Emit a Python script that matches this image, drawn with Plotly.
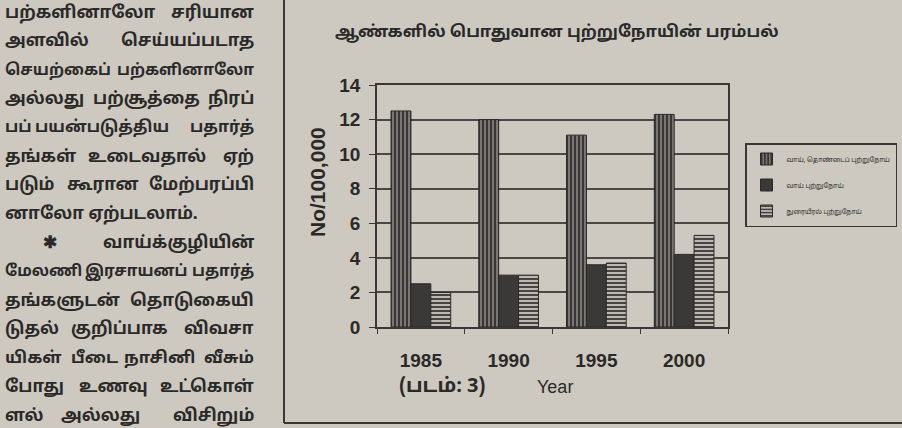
import plotly.graph_objects as go

# ---------------- data ----------------
years = ["1985", "1990", "1995", "2000"]
series_names = ["வாய், தொண்டைப் புற்றுநோய்", "வாய் புற்றுநோய்", "நுரையீரல் புற்றுநோய்"]
s1_values = [12.5, 12.0, 11.1, 12.3]
s2_values = [2.5, 3.0, 3.6, 4.2]
s3_values = [2.0, 3.0, 3.7, 5.3]
y_ticks = [0, 2, 4, 6, 8, 10, 12, 14]

chart_title = "ஆண்களில் பொதுவான புற்றுநோயின் பரம்பல்"
y_title = "No/100,000"
x_title = "Year"
fig_caption = "(படம்: 3)"

column_lines = [
    "பற்களினாலோ சரியான",
    "அளவில் செய்யப்படாத",
    "செயற்கைப் பற்களினாலோ",
    "அல்லது பற்சூத்தை நிரப்",
    "பப் பயன்படுத்திய பதார்த்",
    "தங்கள் உடைவதால் ஏற்",
    "படும் கூரான மேற்பரப்பி",
    "னாலோ ஏற்படலாம்.",
    "* வாய்க்குழியின்",
    "மேலணி இரசாயனப் பதார்த்",
    "தங்களுடன் தொடுகையி",
    "டுதல் குறிப்பாக விவசா",
    "யிகள் பீடை நாசினி வீசும்",
    "போது உணவு உட்கொள்",
    "ளல் அல்லது விசிறும்",
]

# ---------------- layout of the text column (pixel positions) ----------------
left_aligned_lines = {7}
middle_word_centres = {3: [146], 4: [102], 5: [147], 6: [103], 9: [136],
                       11: [119], 12: [94, 159], 13: [113], 14: [100]}
line_font_sizes = {2: 15.5, 4: 16, 9: 15.5, 12: 16.5}

# ---------------- style ----------------
W, H = 902, 428
BG = "#cdc9c1"
INK = "#2b2928"
LINE = "#3a3837"
TAMIL = "Noto Sans Tamil, Lohit Tamil, Latha, Noto Sans, sans-serif"
ARIAL = "Liberation Sans, Arial, sans-serif"
COL_FS = 17


def px(x):
    return x / W


def py(y):
    return 1 - y / H


def ann(x, y, text, font, xanchor="center", yanchor="middle", **kw):
    d = dict(x=px(x), y=py(y), xref="paper", yref="paper", text=text, showarrow=False,
             xanchor=xanchor, yanchor=yanchor, font=font)
    d.update(kw)
    return d


fig = go.Figure()
fig.add_trace(go.Bar(
    x=years, y=s1_values, name=series_names[0], legendgroup="a",
    marker=dict(color="#8a8782", line=dict(color=INK, width=1),
                pattern=dict(shape="|", fgcolor="#383635", bgcolor="#8a8782",
                             size=4, solidity=0.6, fillmode="replace")),
))
fig.add_trace(go.Bar(
    x=years, y=s2_values, name=series_names[1], legendgroup="b",
    marker=dict(color="#3b3938", line=dict(color=INK, width=1)),
))
fig.add_trace(go.Bar(
    x=years, y=s3_values, name=series_names[2], legendgroup="c",
    marker=dict(color="#bebab3", line=dict(color=INK, width=1),
                pattern=dict(shape="-", fgcolor="#383635", bgcolor="#bebab3",
                             size=4, solidity=0.45, fillmode="replace")),
))

annotations = [
    ann(557, 33, "<b>" + chart_title + "</b>", dict(family=TAMIL, size=16.5, color=INK)),
    ann(317, 182, "<b>" + y_title + "</b>", dict(family=ARIAL, size=21, color=INK), textangle=-90),
    ann(397, 387, "<b>" + fig_caption + "</b>", dict(family=TAMIL, size=20, color=INK), xanchor="left"),
    ann(535, 387, x_title, dict(family=ARIAL, size=18, color=INK), xanchor="left"),
]

# left text column (justified: first word left, last word right, middle words placed)
x0, x1 = 3, 256
for i, line in enumerate(column_lines):
    yy = 13 + i * 28.8
    words = line.split(" ")
    f = dict(family=TAMIL, size=line_font_sizes.get(i, COL_FS), color=INK)
    if i in left_aligned_lines or len(words) == 1:
        annotations.append(ann(x0, yy, "<b>" + line + "</b>", f, xanchor="left"))
        continue
    if words[0] == "*":
        annotations.append(ann(50, yy, "<b>✱</b>", f))
        annotations.append(ann(x1, yy, "<b>" + words[1] + "</b>", f, xanchor="right"))
        continue
    annotations.append(ann(x0, yy, "<b>" + words[0] + "</b>", f, xanchor="left"))
    annotations.append(ann(x1, yy, "<b>" + words[-1] + "</b>", f, xanchor="right"))
    for w, cx in zip(words[1:-1], middle_word_centres.get(i, [])):
        annotations.append(ann(cx, yy, "<b>" + w + "</b>", f))

shapes = [
    dict(type="line", xref="paper", yref="paper", x0=px(284), x1=px(284), y0=py(0), y1=py(423),
         line=dict(color=LINE, width=2)),
    dict(type="line", xref="paper", yref="paper", x0=px(284), x1=px(902), y0=py(423), y1=py(423),
         line=dict(color=LINE, width=2)),
]

fig.update_layout(
    width=W, height=H, autosize=False,
    margin=dict(l=0, r=0, t=0, b=0, pad=0),
    paper_bgcolor=BG, plot_bgcolor=BG,
    barmode="group", bargap=0.32, bargroupgap=0,
    showlegend=True,
    legend=dict(x=px(745), y=py(143), xanchor="left", yanchor="top",
                bgcolor=BG, bordercolor=LINE, borderwidth=1.5,
                font=dict(family=TAMIL, size=6.5, color=INK),
                traceorder="grouped", tracegroupgap=7, itemwidth=30),
    xaxis=dict(domain=[px(377), px(728)], type="category", automargin=False,
               showline=True, linecolor=LINE, linewidth=1.5, mirror=True,
               ticks="outside", tickson="boundaries", ticklen=5, tickcolor=LINE,
               ticklabelstandoff=15,
               tickfont=dict(family=ARIAL, size=19, color=INK, weight="bold"), showgrid=False),
    yaxis=dict(domain=[py(327), py(85)], range=[0, 14], tickvals=y_ticks, automargin=False,
               showline=True, linecolor=LINE, linewidth=1.5, mirror=True,
               ticks="outside", ticklen=6, tickcolor=LINE, ticklabelstandoff=5,
               tickfont=dict(family=ARIAL, size=19, color=INK, weight="bold"),
               showgrid=True, gridcolor="#4a4846", gridwidth=1.5, zeroline=False),
    annotations=annotations,
    shapes=shapes,
)

fig.write_html("out.html", config={"displayModeBar": False},
               post_script="document.body.style.margin='0';")
